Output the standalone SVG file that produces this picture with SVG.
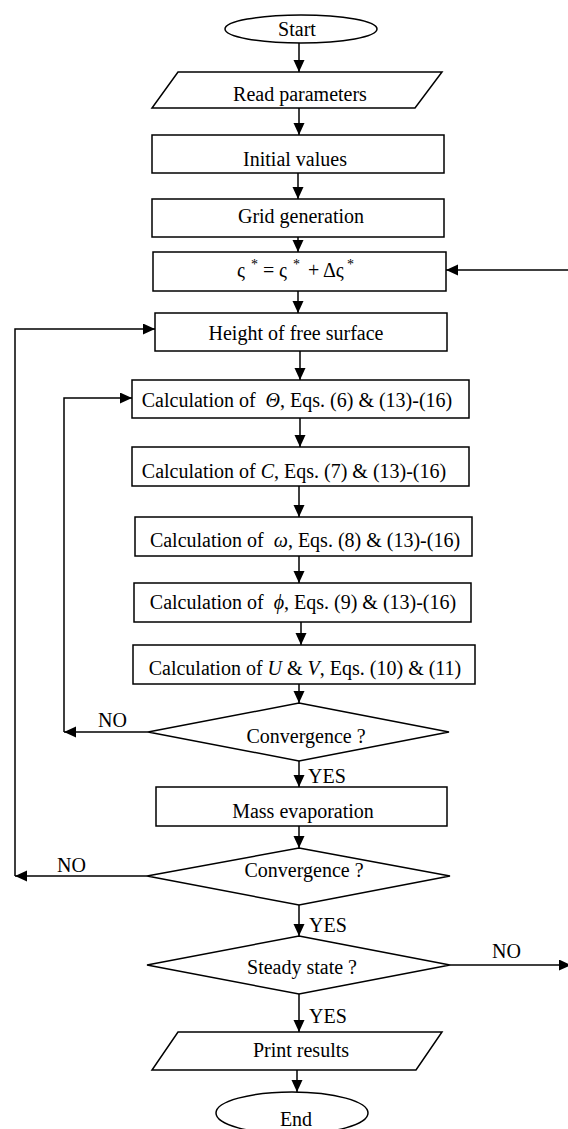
<svg xmlns="http://www.w3.org/2000/svg" width="568" height="1129" viewBox="0 0 568 1129">
<style>
.s{fill:#fff;stroke:#000;stroke-width:1.5}
.c{fill:none;stroke:#000;stroke-width:1.5}
text{font-family:"Liberation Serif","Times New Roman",serif;font-size:20px;fill:#000}
.m{text-anchor:middle}
.i{font-style:italic}
</style>
<defs>
<marker id="a" markerUnits="userSpaceOnUse" markerWidth="13" markerHeight="12" refX="12" refY="5.5" orient="auto">
<path d="M0,0 L12,5.5 L0,11 z" fill="#000"/>
</marker>
</defs>
<rect width="568" height="1129" fill="#fff"/>
<g id="connectors">
<line class="c" x1="299" y1="43" x2="299" y2="72" marker-end="url(#a)"/>
<line class="c" x1="299" y1="108" x2="299" y2="135" marker-end="url(#a)"/>
<line class="c" x1="298" y1="173" x2="298" y2="199" marker-end="url(#a)"/>
<line class="c" x1="298" y1="237" x2="298" y2="252" marker-end="url(#a)"/>
<line class="c" x1="298" y1="291" x2="298" y2="313" marker-end="url(#a)"/>
<line class="c" x1="300" y1="351" x2="300" y2="380" marker-end="url(#a)"/>
<line class="c" x1="300" y1="418" x2="300" y2="447" marker-end="url(#a)"/>
<line class="c" x1="299" y1="486" x2="299" y2="517" marker-end="url(#a)"/>
<line class="c" x1="299" y1="556" x2="299" y2="583" marker-end="url(#a)"/>
<line class="c" x1="301" y1="622" x2="301" y2="645" marker-end="url(#a)"/>
<line class="c" x1="299" y1="684" x2="299" y2="703" marker-end="url(#a)"/>
<line class="c" x1="299" y1="761" x2="299" y2="787" marker-end="url(#a)"/>
<line class="c" x1="299" y1="826" x2="299" y2="848" marker-end="url(#a)"/>
<line class="c" x1="299" y1="905" x2="299" y2="936" marker-end="url(#a)"/>
<line class="c" x1="299" y1="994" x2="299" y2="1032" marker-end="url(#a)"/>
<line class="c" x1="297" y1="1070" x2="297" y2="1092" marker-end="url(#a)"/>
<line class="c" x1="570" y1="270" x2="446" y2="270" marker-end="url(#a)"/>
<line class="c" x1="148" y1="732" x2="64" y2="732" marker-end="url(#a)"/>
<path class="c" d="M64,732 V398 H132" marker-end="url(#a)"/>
<line class="c" x1="147" y1="876" x2="15" y2="876" marker-end="url(#a)"/>
<path class="c" d="M15,876 V329 H155" marker-end="url(#a)"/>
<line class="c" x1="450" y1="965" x2="571" y2="965" marker-end="url(#a)"/>
<text x="98" y="727">NO</text>
<text x="308" y="783">YES</text>
<text x="57" y="872">NO</text>
<text x="309" y="932">YES</text>
<text x="492" y="958">NO</text>
<text x="309" y="1023">YES</text>
</g>
<g id="start">
<ellipse class="s" cx="301" cy="29" rx="76" ry="14"/>
<text class="m" x="297" y="36">Start</text>
</g>
<g id="read">
<polygon class="s" points="178,72 442,72 415,108 152,108"/>
<text class="m" x="300" y="101">Read parameters</text>
</g>
<g id="initial">
<rect class="s" x="152" y="135" width="292" height="38"/>
<text class="m" x="295" y="166">Initial values</text>
</g>
<g id="grid">
<rect class="s" x="152" y="199" width="292" height="38"/>
<text class="m" x="301" y="223">Grid generation</text>
</g>
<g id="zeta">
<rect class="s" x="153" y="252" width="293" height="39"/>
<text y="277"><tspan x="237">ς</tspan><tspan x="251" y="269" font-size="14">*</tspan><tspan x="263" y="277">=</tspan><tspan x="279">ς</tspan><tspan x="293" y="269" font-size="14">*</tspan><tspan x="308" y="277">+</tspan><tspan x="323">Δς</tspan><tspan x="347" y="269" font-size="14">*</tspan></text>
</g>
<g id="height">
<rect class="s" x="155" y="313" width="292" height="38"/>
<text class="m" x="296" y="340">Height of free surface</text>
</g>
<g id="theta">
<rect class="s" x="132" y="380" width="337" height="38"/>
<text class="m" x="297" y="407" xml:space="preserve">Calculation of  <tspan class="i">Θ</tspan>, Eqs. (6) &amp; (13)-(16)</text>
</g>
<g id="conc">
<rect class="s" x="132" y="447" width="337" height="39"/>
<text class="m" x="294" y="478">Calculation of <tspan class="i">C</tspan>, Eqs. (7) &amp; (13)-(16)</text>
</g>
<g id="omega">
<rect class="s" x="135" y="517" width="337" height="39"/>
<text class="m" x="305" y="547" xml:space="preserve">Calculation of  <tspan class="i">ω</tspan>, Eqs. (8) &amp; (13)-(16)</text>
</g>
<g id="phi">
<rect class="s" x="134" y="583" width="337" height="39"/>
<text class="m" x="303" y="609" xml:space="preserve">Calculation of  <tspan class="i">ϕ</tspan>, Eqs. (9) &amp; (13)-(16)</text>
</g>
<g id="uv">
<rect class="s" x="133" y="645" width="342" height="39"/>
<text class="m" x="305" y="675">Calculation of <tspan class="i">U</tspan> &amp; <tspan class="i">V</tspan>, Eqs. (10) &amp; (11)</text>
</g>
<g id="conv1">
<polygon class="s" points="299,703 449,732 299,761 148,732"/>
<text class="m" x="306" y="743">Convergence ?</text>
</g>
<g id="mass">
<rect class="s" x="156" y="787" width="291" height="39"/>
<text class="m" x="303" y="818">Mass evaporation</text>
</g>
<g id="conv2">
<polygon class="s" points="299,848 450,876 299,905 147,876"/>
<text class="m" x="304" y="877">Convergence ?</text>
</g>
<g id="steady">
<polygon class="s" points="299,936 450,965 299,994 147,965"/>
<text class="m" x="302" y="974">Steady state ?</text>
</g>
<g id="print">
<polygon class="s" points="178,1032 442,1032 416,1070 152,1070"/>
<text class="m" x="301" y="1057">Print results</text>
</g>
<g id="end">
<ellipse class="s" cx="292" cy="1113" rx="76" ry="21"/>
<text class="m" x="296" y="1126">End</text>
</g>
</svg>
